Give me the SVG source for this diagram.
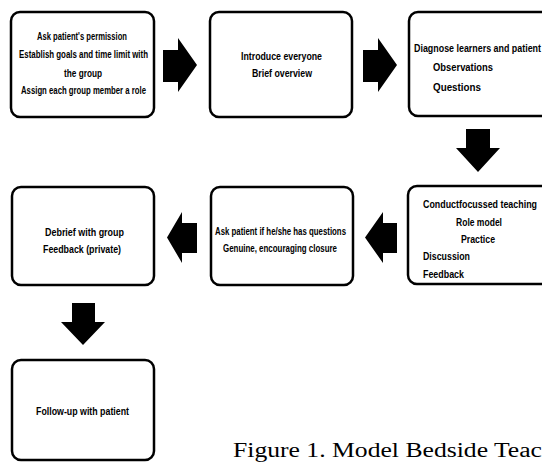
<svg xmlns="http://www.w3.org/2000/svg" width="542" height="463" viewBox="0 0 542 463">
<style>
.box{fill:#fff;stroke:#000;stroke-width:2.5}
.t{font-family:"Liberation Sans",Arial,sans-serif;font-size:10px;font-weight:bold;fill:#000}
.arr{fill:#000}
.cap{font-family:"Liberation Serif","Times New Roman",serif;font-size:20px;fill:#000}
</style>
<rect width="542" height="463" fill="#fff"/>
<g id="connectors">
<polygon class="arr" points="163,50 178,50 178,38 197,65 178,92 178,82 163,82"/>
<polygon class="arr" points="363,50 378,50 378,38 397,65 378,92 378,82 363,82"/>
<polygon class="arr" points="466,129 490,129 490,148 500,148 478,172 456,148 466,148"/>
<polygon class="arr" points="397,223 383,223 383,212 365,237.5 383,263 383,253 397,253"/>
<polygon class="arr" points="197,223 182,223 182,212 167,237.5 182,263 182,253 197,253"/>
<polygon class="arr" points="72,303 95,303 95,322 105,322 83,345 61,322 72,322"/>
</g>
<g id="node1">
<rect class="box" x="11" y="12" width="143" height="105" rx="9"/>
<text class="t" x="37" y="40" textLength="90" lengthAdjust="spacingAndGlyphs">Ask patient's permission</text>
<text class="t" x="19" y="58" textLength="129" lengthAdjust="spacingAndGlyphs">Establish goals and time limit with</text>
<text class="t" x="64" y="77" textLength="38" lengthAdjust="spacingAndGlyphs">the group</text>
<text class="t" x="21" y="94" textLength="125" lengthAdjust="spacingAndGlyphs">Assign each group member a role</text>
</g>
<g id="node2">
<rect class="box" x="210" y="12" width="142" height="105" rx="9"/>
<text class="t" x="241" y="60" textLength="81" lengthAdjust="spacingAndGlyphs">Introduce everyone</text>
<text class="t" x="252" y="77" textLength="60" lengthAdjust="spacingAndGlyphs">Brief overview</text>
</g>
<g id="node3">
<rect class="box" x="409" y="12" width="150" height="104" rx="9"/>
<text class="t" x="414" y="52" textLength="127" lengthAdjust="spacingAndGlyphs">Diagnose learners and patient</text>
<text class="t" x="433" y="71" textLength="60" lengthAdjust="spacingAndGlyphs">Observations</text>
<text class="t" x="433" y="91" textLength="48" lengthAdjust="spacingAndGlyphs">Questions</text>
</g>
<g id="node4">
<rect class="box" x="408" y="186" width="150" height="98" rx="9"/>
<text class="t" x="423" y="208" textLength="114" lengthAdjust="spacingAndGlyphs">Conductfocussed teaching</text>
<text class="t" x="456" y="226" textLength="46" lengthAdjust="spacingAndGlyphs">Role model</text>
<text class="t" x="461" y="243" textLength="34" lengthAdjust="spacingAndGlyphs">Practice</text>
<text class="t" x="423" y="260" textLength="47" lengthAdjust="spacingAndGlyphs">Discussion</text>
<text class="t" x="423" y="278" textLength="41" lengthAdjust="spacingAndGlyphs">Feedback</text>
</g>
<g id="node5">
<rect class="box" x="211" y="187" width="142" height="98" rx="9"/>
<text class="t" x="215" y="235" textLength="131" lengthAdjust="spacingAndGlyphs">Ask patient if he/she has questions</text>
<text class="t" x="223" y="252" textLength="114" lengthAdjust="spacingAndGlyphs">Genuine, encouraging closure</text>
</g>
<g id="node6">
<rect class="box" x="12" y="187" width="142" height="98" rx="9"/>
<text class="t" x="45" y="236" textLength="79" lengthAdjust="spacingAndGlyphs">Debrief with group</text>
<text class="t" x="43" y="253" textLength="78" lengthAdjust="spacingAndGlyphs">Feedback (private)</text>
</g>
<g id="node7">
<rect class="box" x="12" y="360" width="142" height="100" rx="9"/>
<text class="t" x="36" y="415" textLength="93" lengthAdjust="spacingAndGlyphs">Follow-up with patient</text>
</g>
<text class="cap" x="233" y="457" textLength="309" lengthAdjust="spacingAndGlyphs">Figure 1. Model Bedside Teac</text>
</svg>
